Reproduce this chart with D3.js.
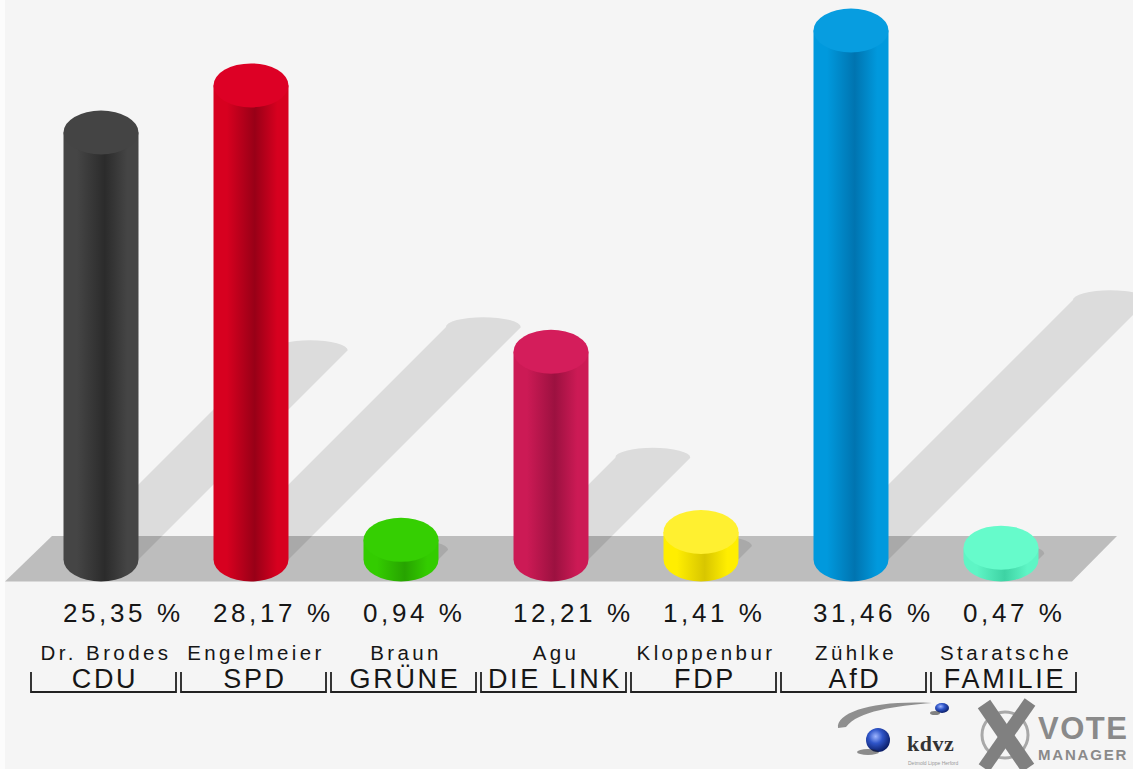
<!DOCTYPE html>
<html><head><meta charset="utf-8">
<script src="https://cdn.jsdelivr.net/npm/d3@7"></script>
<style>html,body{margin:0;padding:0;background:#f5f5f5;}svg{display:block;}</style>
</head><body>
<script>
const candidates = ["Dr. Brodes","Engelmeier","Braun","Agu","Kloppenbur","Zühlke","Staratsche"];
const parties = ["CDU","SPD","GRÜNE","DIE LINK","FDP","AfD","FAMILIE"];
const values = [25.35,28.17,0.94,12.21,1.41,31.46,0.47];
const baseColors = ["#454545","#d7001f","#33cc00","#cc1a55","#ffee00","#0099dd","#5ef5c5"];
const darkColors = ["#2b2b2b","#980017","#27a300","#9c1140","#d8c600","#0074b0","#3ed3a4"];
const topColors  = ["#444444","#dd0025","#35cf02","#d41d5b","#fff030","#079de0","#66fbcb"];

const W=1133,H=769;
const svg=d3.select("body").append("svg").attr("width",W).attr("height",H);
svg.append("rect").attr("width",W).attr("height",H).attr("fill","#f5f5f5");
svg.append("rect").attr("width",5).attr("height",H).attr("fill","#fcfcfc");

const x=d3.scaleBand().domain(parties).range([26,1076]).padding(0);
const base=559.5, rx=37.5, ry=22;
const y=d3.scaleLinear().domain([0,31.46]).range([base-4,base-529]);
const fmt=d3.formatLocale({decimal:",",thousands:".",grouping:[3],currency:["","€"]}).format(".2f");

const data=parties.map((p,i)=>({p,i,v:values[i],name:candidates[i],c:baseColors[i],d:darkColors[i],t:topColors[i]}));

// gradients
const defs=svg.append("defs");
data.forEach(d=>{
  const g=defs.append("linearGradient").attr("id","g"+d.i).attr("x1",0).attr("x2",1).attr("y1",0).attr("y2",0);
  g.append("stop").attr("offset",0).attr("stop-color",d.c);
  g.append("stop").attr("offset",0.18).attr("stop-color",d.c);
  g.append("stop").attr("offset",0.55).attr("stop-color",d.d);
  g.append("stop").attr("offset",0.85).attr("stop-color",d.c);
  g.append("stop").attr("offset",1).attr("stop-color",d.c);
});

// floor
svg.append("path").attr("d","M52,536 L1117,536 L1072,581.5 L5,581.5 Z").attr("fill","#bdbdbd");

// shadows
svg.append("g").selectAll("path").data(data).join("path")
  .attr("fill","rgba(0,0,0,0.1)")
  .attr("d",d=>{
    const cx=x(d.p)+75, h=base-y(d.v), s=0.49*h;
    const tx=cx+s, ty=base-s;
    return `M${cx-rx},${base} L${cx+rx},${base} L${tx+rx},${ty} A${rx},10 0 0 0 ${tx-rx},${ty} Z`;
  });

// bars (cylinders)
const bars=svg.append("g").selectAll("g").data(data).join("g");
bars.append("path")
  .attr("fill",d=>`url(#g${d.i})`)
  .attr("d",d=>{
    const cx=x(d.p)+75, ty=y(d.v);
    return `M${cx-rx},${ty} L${cx-rx},${base} A${rx},${ry} 0 0 0 ${cx+rx},${base} L${cx+rx},${ty} Z`;
  });
bars.append("ellipse")
  .attr("cx",d=>x(d.p)+75).attr("cy",d=>y(d.v))
  .attr("rx",rx).attr("ry",ry).attr("fill",d=>d.t);

const font="'Liberation Sans', Arial, Helvetica, sans-serif";
// percentages
svg.append("g").selectAll("text").data(data).join("text")
  .attr("x",d=>x(d.p)+37).attr("y",622)
  .attr("font-family",font).attr("font-size",26).attr("letter-spacing",3.6)
  .attr("fill","#161616")
  .text(d=>fmt(d.v)+" %");
// candidate names
svg.append("g").selectAll("text").data(data).join("text")
  .attr("x",d=>x(d.p)+80).attr("y",659.5).attr("text-anchor","middle")
  .attr("font-family",font).attr("font-size",20.5).attr("letter-spacing",3.4)
  .attr("fill","#161616")
  .text(d=>d.name);
// party names
svg.append("g").selectAll("text").data(data).join("text")
  .attr("x",d=>x(d.p)+79).attr("y",688).attr("text-anchor","middle")
  .attr("font-family",font).attr("font-size",27).attr("letter-spacing",2.7)
  .attr("fill","#161616")
  .text(d=>d.p);
// brackets
svg.append("g").selectAll("path").data(data).join("path")
  .attr("fill","none").attr("stroke","#222").attr("stroke-width",1.8)
  .attr("d",d=>{const l=x(d.p)+5,r=x(d.p)+150;return `M${l},672 L${l},692 L${r},692 L${r},672`;});

// logo
const logo=svg.append("g");
const sg=defs.append("radialGradient").attr("id","sph").attr("cx",0.4).attr("cy",0.35).attr("r",0.65);
sg.append("stop").attr("offset",0).attr("stop-color","#9fb6ff");
sg.append("stop").attr("offset",0.45).attr("stop-color","#2f55c8");
sg.append("stop").attr("offset",1).attr("stop-color","#0c1f6a");
logo.append("path").attr("d","M838,728 C836,712 875,700 932,703 C895,706 858,711 846,727 Z").attr("fill","#8f8f8f");
logo.append("ellipse").attr("cx",942).attr("cy",708).attr("rx",7).attr("ry",5).attr("fill","url(#sph)");
logo.append("ellipse").attr("cx",935).attr("cy",713).attr("rx",5).attr("ry",2).attr("fill","#333").attr("opacity",0.6);
logo.append("circle").attr("cx",878).attr("cy",740).attr("r",12).attr("fill","url(#sph)");
logo.append("ellipse").attr("cx",868).attr("cy",752).attr("rx",11).attr("ry",3).attr("fill","#222").attr("opacity",0.5);
logo.append("text").attr("x",907).attr("y",751).attr("font-family","'Liberation Serif', serif").attr("font-weight","bold")
  .attr("font-size",22).attr("fill","#333").attr("letter-spacing",0.5).text("kdvz");
logo.append("text").attr("x",908).attr("y",765).attr("font-family",font).attr("font-size",5).attr("fill","#999").text("Detmold  Lippe  Herford");
logo.append("circle").attr("cx",1005).attr("cy",735).attr("r",23).attr("fill","none").attr("stroke","#a8a8a8").attr("stroke-width",3);
logo.append("line").attr("x1",984).attr("y1",704).attr("x2",1028).attr("y2",768).attr("stroke","#808080").attr("stroke-width",15);
logo.append("line").attr("x1",1030).attr("y1",702).attr("x2",984).attr("y2",768).attr("stroke","#808080").attr("stroke-width",13);
logo.append("text").attr("x",1038).attr("y",739).attr("font-family",font).attr("font-weight","bold")
  .attr("font-size",31).attr("fill","#8a8a8a").attr("letter-spacing",1.5).text("VOTE");
logo.append("text").attr("x",1038).attr("y",760).attr("font-family",font).attr("font-weight","bold")
  .attr("font-size",15).attr("fill","#8a8a8a").attr("letter-spacing",1.8).text("MANAGER");
</script>
</body></html>
